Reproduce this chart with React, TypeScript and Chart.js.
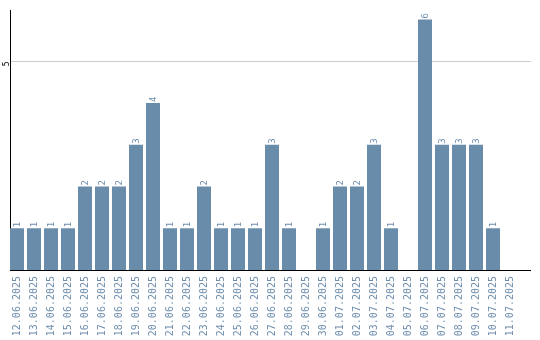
import React, { useEffect, useRef } from "react";
import { Chart, registerables } from "chart.js";

Chart.register(...registerables);

const dates = [
  "12.06.2025", "13.06.2025", "14.06.2025", "15.06.2025", "16.06.2025",
  "17.06.2025", "18.06.2025", "19.06.2025", "20.06.2025", "21.06.2025",
  "22.06.2025", "23.06.2025", "24.06.2025", "25.06.2025", "26.06.2025",
  "27.06.2025", "28.06.2025", "29.06.2025", "30.06.2025", "01.07.2025",
  "02.07.2025", "03.07.2025", "04.07.2025", "05.07.2025", "06.07.2025",
  "07.07.2025", "08.07.2025", "09.07.2025", "10.07.2025", "11.07.2025",
];
const counts = [1, 1, 1, 1, 2, 2, 2, 3, 4, 1, 1, 2, 1, 1, 1, 3, 1, 0, 1, 2, 2, 3, 1, 0, 6, 3, 3, 3, 1, 0];
const yTicks = [5];

const BAR_COLOR = "#6a8cab";
const TEXT_COLOR = "#6f8eae";
const FONT_FAMILY = "'DejaVu Sans Mono', monospace";
const SHIFT = -1.5;

const align = (p: number) => Math.round(p - 0.5) + 0.5;

const drawPlugin = {
  id: "extrasAndShift",
  beforeDatasetsDraw(chart: any) {
    const { ctx, chartArea, scales } = chart;
    const ext = 11;
    ctx.save();
    ctx.lineWidth = 1;
    ctx.strokeStyle = "#cccccc";
    yTicks.forEach((v) => {
      const y = align(scales.y.getPixelForValue(v));
      ctx.beginPath();
      ctx.moveTo(chartArea.right, y);
      ctx.lineTo(chartArea.right + ext, y);
      ctx.stroke();
    });
    ctx.strokeStyle = "#000000";
    const yb = align(chartArea.bottom);
    ctx.beginPath();
    ctx.moveTo(chartArea.right - 1, yb);
    ctx.lineTo(chartArea.right + ext, yb);
    ctx.stroke();
    ctx.restore();
    ctx.save();
    ctx.translate(SHIFT, 0);
  },
  afterDatasetsDraw(chart: any) {
    const { ctx } = chart;
    ctx.restore();
    const meta = chart.getDatasetMeta(0);
    ctx.save();
    ctx.fillStyle = TEXT_COLOR;
    ctx.font = `9px ${FONT_FAMILY}`;
    ctx.textAlign = "left";
    ctx.textBaseline = "middle";
    meta.data.forEach((bar: any, i: number) => {
      const v = counts[i];
      if (!v) return;
      ctx.save();
      ctx.translate(bar.x + SHIFT + 0.5, bar.y - 1);
      ctx.rotate(-Math.PI / 2);
      ctx.fillText(String(v), 0, 0);
      ctx.restore();
    });
    ctx.restore();
  },
};

export default function App() {
  const ref = useRef<HTMLCanvasElement | null>(null);

  useEffect(() => {
    document.body.style.margin = "0";
    if (!ref.current) return;
    const chart = new Chart(ref.current, {
      type: "bar",
      data: {
        labels: dates,
        datasets: [
          {
            data: counts,
            backgroundColor: BAR_COLOR,
            borderWidth: 0,
            categoryPercentage: 1,
            barPercentage: 14 / 17,
          },
        ],
      },
      options: {
        animation: false,
        responsive: false,
        maintainAspectRatio: false,
        layout: { padding: { left: 0, right: 20, top: 10, bottom: 0 } },
        plugins: {
          legend: { display: false },
          tooltip: { enabled: false },
          title: { display: false },
        },
        scales: {
          x: {
            grid: { display: false, drawTicks: false },
            border: { display: true, color: "#000000", width: 1 },
            ticks: {
              color: TEXT_COLOR,
              font: { family: FONT_FAMILY, size: 10 },
              minRotation: 90,
              maxRotation: 90,
              autoSkip: false,
              padding: 6,
              labelOffset: SHIFT,
            },
            afterFit(scale: any) {
              scale.height = 70;
            },
          },
          y: {
            min: 0,
            max: 6.23,
            afterBuildTicks(scale: any) {
              scale.ticks = yTicks.map((v) => ({ value: v }));
            },
            grid: { color: "#cccccc", drawTicks: false, lineWidth: 1 },
            border: { display: true, color: "#000000", width: 1 },
            ticks: {
              color: "#000000",
              font: { family: FONT_FAMILY, size: 8 },
              minRotation: 90,
              maxRotation: 90,
              padding: 3,
            },
            afterFit(scale: any) {
              scale.width = 10;
            },
          },
        },
      },
      plugins: [drawPlugin],
    });
    return () => chart.destroy();
  }, []);

  return (
    <div style={{ width: 540, height: 340 }}>
      <canvas ref={ref} width={540} height={340} style={{ display: "block" }} />
    </div>
  );
}
